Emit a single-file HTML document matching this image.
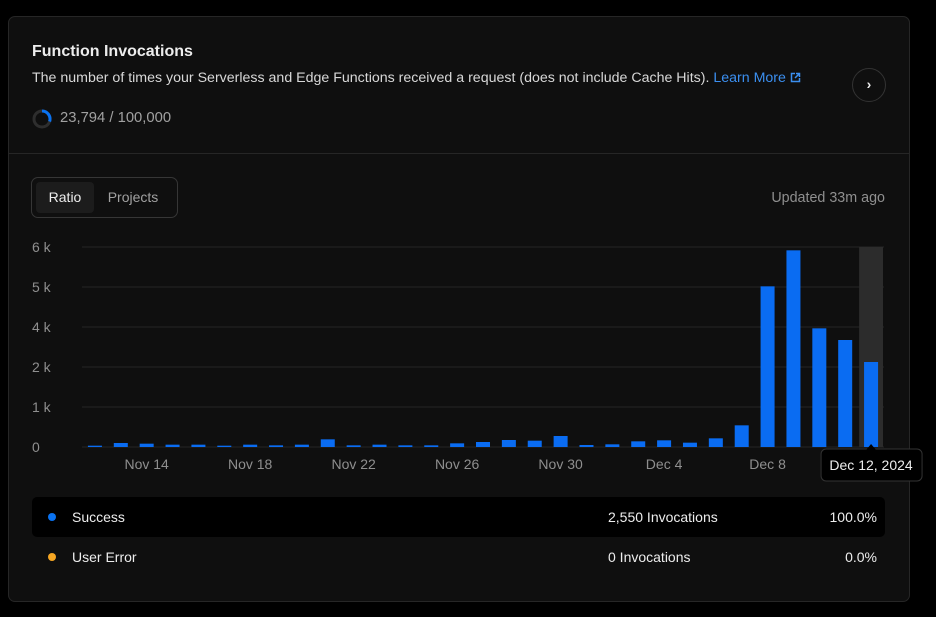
<!DOCTYPE html>
<html><head><meta charset="utf-8"><style>
*{box-sizing:border-box;margin:0;padding:0}
body{width:936px;height:617px;background:#000;font-family:"Liberation Sans",sans-serif;position:relative;overflow:hidden;color:#ededed}
.card{position:absolute;left:8px;top:16px;width:902px;height:586px;background:#0f0f0f;border:1px solid #262626;border-radius:7px}
.abs{position:absolute}
</style></head><body>
<div class="card"></div>
<div class="abs" style="left:32px;top:43px;font-size:16px;font-weight:bold;color:#ededed">Function Invocations</div>
<div class="abs" style="left:32px;top:70px;font-size:14.2px;color:#d8d8d8;white-space:nowrap">The number of times your Serverless and Edge Functions received a request (does not include Cache Hits). <span style="color:#3b8ff0">Learn More <svg width="11" height="11" viewBox="0 0 11 11" style="vertical-align:-1px"><path d="M5 1.5H1.5v8h8V6" fill="none" stroke="#3b8ff0" stroke-width="1.5"/><path d="M6 1.5h3.5V5M9.5 1.5 5 6" fill="none" stroke="#3b8ff0" stroke-width="1.5"/></svg></span></div>
<svg class="abs" style="left:32px;top:109px" width="20" height="20"><circle cx="10" cy="10" r="8" fill="none" stroke="#2e2e2e" stroke-width="3"/><path d="M10 2 A8 8 0 0 1 17.6 12.5" fill="none" stroke="#0a72f0" stroke-width="3"/></svg>
<div class="abs" style="left:60px;top:110px;font-size:14.8px;color:#a1a1a1">23,794 / 100,000</div>
<div class="abs" style="left:852px;top:68px;width:34px;height:34px;border:1px solid #333;border-radius:50%;color:#ededed;font-size:14px;text-align:center;line-height:31px;font-weight:bold">›</div>
<div class="abs" style="left:9px;top:153px;width:900px;height:1px;background:#262626"></div>
<div class="abs" style="left:31px;top:177px;width:147px;height:41px;border:1px solid #363636;border-radius:7px"></div>
<div class="abs" style="left:36px;top:182px;width:58px;height:31px;background:#1c1c1c;border-radius:4px;font-size:14px;color:#ededed;text-align:center;line-height:31px">Ratio</div>
<div class="abs" style="left:96px;top:182px;width:74px;height:31px;font-size:14px;color:#a1a1a1;text-align:center;line-height:31px">Projects</div>
<div class="abs" style="left:700px;top:190px;width:185px;text-align:right;font-size:14.3px;color:#8f8f8f">Updated 33m ago</div>
<svg id="chart" class="abs" style="left:0;top:0" width="936" height="490"></svg>
<div class="abs" style="left:32px;top:497px;width:853px;height:40px;background:#000;border-radius:5px"></div>
<div class="abs" style="left:48px;top:513px;width:8px;height:8px;border-radius:50%;background:#0a72f0"></div>
<div class="abs" style="left:72px;top:509px;font-size:14px;color:#ededed">Success</div>
<div class="abs" style="left:608px;top:509px;font-size:14px;color:#ededed">2,550 Invocations</div>
<div class="abs" style="left:780px;top:509px;width:97px;text-align:right;font-size:14px;color:#ededed">100.0%</div>
<div class="abs" style="left:48px;top:553px;width:8px;height:8px;border-radius:50%;background:#f5a623"></div>
<div class="abs" style="left:72px;top:549px;font-size:14px;color:#ededed">User Error</div>
<div class="abs" style="left:608px;top:549px;font-size:14px;color:#ededed">0 Invocations</div>
<div class="abs" style="left:780px;top:549px;width:97px;text-align:right;font-size:14px;color:#ededed">0.0%</div>
<script>
const dates=["Nov 12","Nov 13","Nov 14","Nov 15","Nov 16","Nov 17","Nov 18","Nov 19","Nov 20","Nov 21","Nov 22","Nov 23","Nov 24","Nov 25","Nov 26","Nov 27","Nov 28","Nov 29","Nov 30","Dec 1","Dec 2","Dec 3","Dec 4","Dec 5","Dec 6","Dec 7","Dec 8","Dec 9","Dec 10","Dec 11","Dec 12"];
const success=[40,120,100,70,70,40,70,50,70,230,50,70,50,50,110,150,210,190,330,60,80,170,200,130,260,650,4820,5900,3560,3210,2550];
const yTicks=[0,1200,2400,3600,4800,6000];
const yTickLabels=["0","1 k","2 k","4 k","5 k","6 k"];
const xTickLabels=["Nov 14","Nov 18","Nov 22","Nov 26","Nov 30","Dec 4","Dec 8"];
const hovered="Dec 12";
const NS="http://www.w3.org/2000/svg",svg=document.getElementById('chart');
const L=82,R=884,T=247,B=447,yMax=6000;
const band=(R-L)/dates.length;
const x=i=>L+band*i;
const y=v=>B-(v/yMax)*(B-T);
function mk(t,a){const e=document.createElementNS(NS,t);for(const k in a)e.setAttribute(k,a[k]);svg.appendChild(e);return e;}
yTicks.forEach((v,i)=>{
 const g=mk('line',{x1:L,x2:R,y1:y(v),y2:y(v),stroke:'#262626','stroke-width':1});
 
 
 const t=mk('text',{x:32,y:y(v)+5,fill:'#8f8f8f','font-size':14,'font-family':'Liberation Sans, sans-serif'});
 t.textContent=yTickLabels[i];
 
 
});
const hi=dates.indexOf(hovered);
const hb=mk('rect',{x:x(hi)+1,y:T,width:band-2,height:B-T,fill:'#2c2c2c'});


success.forEach((v,i)=>{
 const w=14;
 const r=mk('rect',{x:x(i)+(band-w)/2,y:y(v),width:w,height:B-y(v),fill:'#0a6cf2'});
 
 
});
xTickLabels.forEach(l=>{
 const i=dates.indexOf(l);
 const t=mk('text',{x:x(i)+band/2,y:469,fill:'#8f8f8f','font-size':14,'text-anchor':'middle','font-family':'Liberation Sans, sans-serif'});
 t.textContent=l;
 
 
});
const cx=x(hi)+band/2;
const tip=mk('rect',{x:cx-50,y:449,width:101,height:32,rx:5,fill:'#000',stroke:'#333'});


const ar=mk('path',{d:`M${cx-5} 450 L${cx} 444 L${cx+5} 450 Z`,fill:'#000'});


const tt=mk('text',{x:cx,y:470,fill:'#ededed','font-size':14,'text-anchor':'middle','font-family':'Liberation Sans, sans-serif'});
tt.textContent="Dec 12, 2024";


</script>
</body></html>
